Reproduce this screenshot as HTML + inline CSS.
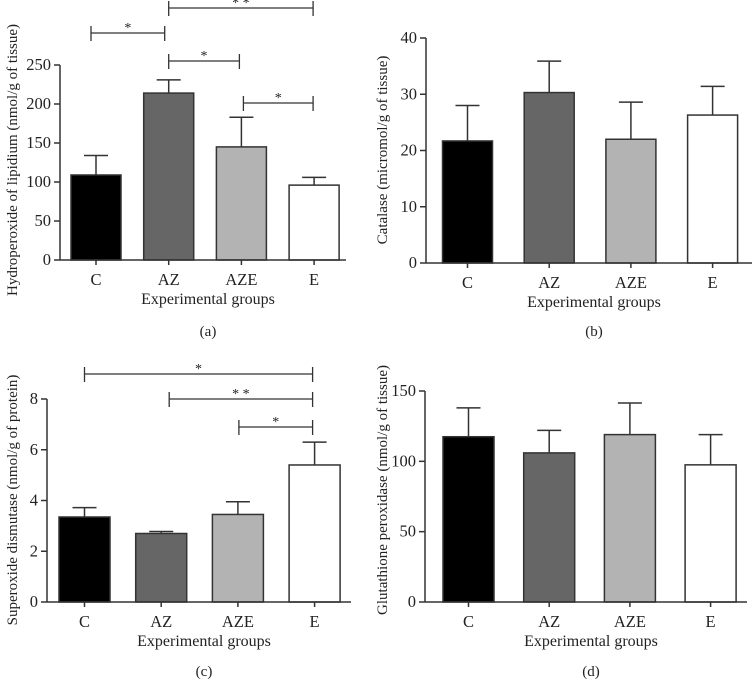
<!DOCTYPE html>
<html><head><meta charset="utf-8"><style>
html,body{margin:0;padding:0;background:#fff;width:752px;height:683px;overflow:hidden}
svg{display:block;font-family:"Liberation Serif",serif;fill:#222}
</style></head><body>
<svg id="fig" width="752" height="683"></svg>
<script>
const categories = ["C","AZ","AZE","E"];
const lipidMeans = [109,214,145,96];
const lipidErrTops = [134,231,183,106];
const lipidTicks = [0,50,100,150,200,250];
const catalaseMeans = [21.7,30.3,22,26.3];
const catalaseErrTops = [28,35.9,28.6,31.4];
const catalaseTicks = [0,10,20,30,40];
const sodMeans = [3.35,2.7,3.45,5.4];
const sodErrTops = [3.72,2.78,3.95,6.3];
const sodTicks = [0,2,4,6,8];
const gpxMeans = [117.5,106,119,97.5];
const gpxErrTops = [138,122,141.5,119];
const gpxTicks = [0,50,100,150];
const fills = ["#000","#666","#b3b3b3","#fff"];
const lipidSig = [[0,1,"*"],[1,3,"**"],[1,2,"*"],[2,3,"*"]];
const sodSig = [[0,3,"*"],[1,3,"**"],[2,3,"*"]];

const NS="http://www.w3.org/2000/svg";
const svg=document.getElementById('fig');
function mk(tag,attrs,parent){const e=document.createElementNS(NS,tag);for(const k in attrs)e.setAttribute(k,attrs[k]);(parent||svg).appendChild(e);return e;}

function panel(cfg){
  const g=mk('g',{});
  
  
  const max=cfg.ticks[cfg.ticks.length-1];
  const y=v=>cfg.y0-(v/max)*(cfg.y0-cfg.yTop);
  const step=cfg.step, bw=cfg.bw;
  const cx=i=>cfg.firstCx+i*step;
  cfg.means.forEach((m,i)=>{
    const top=y(cfg.errs[i]);
    const l=mk('line',{x1:cx(i),x2:cx(i),y1:y(m),y2:top,stroke:'#333','stroke-width':1.5},g);
    
    
    const c=mk('line',{x1:cx(i)-12,x2:cx(i)+12,y1:top,y2:top,stroke:'#333','stroke-width':1.5},g);
    
    
    const r=mk('rect',{x:cx(i)-bw/2,y:y(m),width:bw,height:cfg.y0-y(m),fill:fills[i],stroke:'#333','stroke-width':1.5},g);
    
    
    mk('line',{x1:cx(i),x2:cx(i),y1:cfg.y0,y2:cfg.y0+5,stroke:'#333','stroke-width':1.5},g);
    const lab=mk('text',{x:cx(i),y:cfg.y0+25,'text-anchor':'middle','font-size':16.5},g);
    lab.textContent=categories[i];
    
    
  });
  const ya=mk('line',{x1:cfg.ax,x2:cfg.ax,y1:cfg.yTop,y2:cfg.y0,stroke:'#333','stroke-width':1.5},g);
  
  
  const xa=mk('line',{x1:cfg.ax,x2:cfg.axEnd,y1:cfg.y0,y2:cfg.y0,stroke:'#333','stroke-width':1.5},g);
  
  
  cfg.ticks.forEach(v=>{
    mk('line',{x1:cfg.ax-6,x2:cfg.ax,y1:y(v),y2:y(v),stroke:'#333','stroke-width':1.5},g);
    const t=mk('text',{x:cfg.ax-9,y:y(v)+5,'text-anchor':'end','font-size':16.5},g);
    t.textContent=v;
    
    
  });
  const xt=mk('text',{x:(cfg.ax+cfg.axEnd)/2+5,y:cfg.y0+44,'text-anchor':'middle','font-size':16},g);
  xt.textContent='Experimental groups';
  
  
  const yt=mk('text',{x:0,y:0,'text-anchor':'middle','font-size':15,transform:`translate(${cfg.ytx},${cfg.yty}) rotate(-90)`},g);
  yt.textContent=cfg.ytitle;
  
  
  const pl=mk('text',{x:(cfg.ax+cfg.axEnd)/2+5,y:cfg.plY,'text-anchor':'middle','font-size':15},g);
  pl.textContent=cfg.plabel;
  
  
  (cfg.sig||[]).forEach((s,k)=>{
    const by=cfg.sigY[k];
    const x1=cx(s[0])-cfg.sigOff[k][0], x2=cx(s[1])-cfg.sigOff[k][1];
    const b=mk('path',{d:`M${x1} ${by+8}V${by-7}M${x1} ${by}H${x2}M${x2} ${by-7}V${by+8}`,stroke:'#333','stroke-width':1.3,fill:'none'},g);
    
    
    const st=mk('text',{x:(x1+x2)/2,y:by-1,'text-anchor':'middle','font-size':14},g);
    st.textContent=s[2].split('').join(' ');
    
    
  });
}

panel({name:'panel-a-lipid-hydroperoxide',means:lipidMeans,errs:lipidErrTops,ticks:lipidTicks,y0:260,yTop:65,ax:60,axEnd:346,firstCx:96,step:72.7,bw:50,
  ytitle:'Hydroperoxide of lipidium (nmol/g of tissue)',ytx:17,yty:160,plabel:'(a)',plY:336,
  sig:lipidSig,sigY:[33,8,61,103],sigOff:[[5,4],[0,1],[0,2],[-2,1]]});
panel({name:'panel-b-catalase',means:catalaseMeans,errs:catalaseErrTops,ticks:catalaseTicks,y0:263,yTop:38,ax:426,axEnd:752,firstCx:467.5,step:81.7,bw:50,
  ytitle:'Catalase (micromol/g of tissue)',ytx:387,yty:150,plabel:'(b)',plY:336});
panel({name:'panel-c-superoxide-dismutase',means:sodMeans,errs:sodErrTops,ticks:sodTicks,y0:602,yTop:399,ax:47,axEnd:351,firstCx:84.5,step:76.7,bw:51,
  ytitle:'Superoxide dismutase (nmol/g of protein)',ytx:17,yty:500,plabel:'(c)',plY:676,
  sig:sodSig,sigY:[374,399,427],sigOff:[[0,2],[-8,2],[-1,2]]});
panel({name:'panel-d-glutathione-peroxidase',means:gpxMeans,errs:gpxErrTops,ticks:gpxTicks,y0:602,yTop:391,ax:425,axEnd:747,firstCx:468.5,step:80.7,bw:51,
  ytitle:'Glutathione peroxidase (nmol/g of tissue)',ytx:387,yty:490,plabel:'(d)',plY:676});
</script>
</body></html>
